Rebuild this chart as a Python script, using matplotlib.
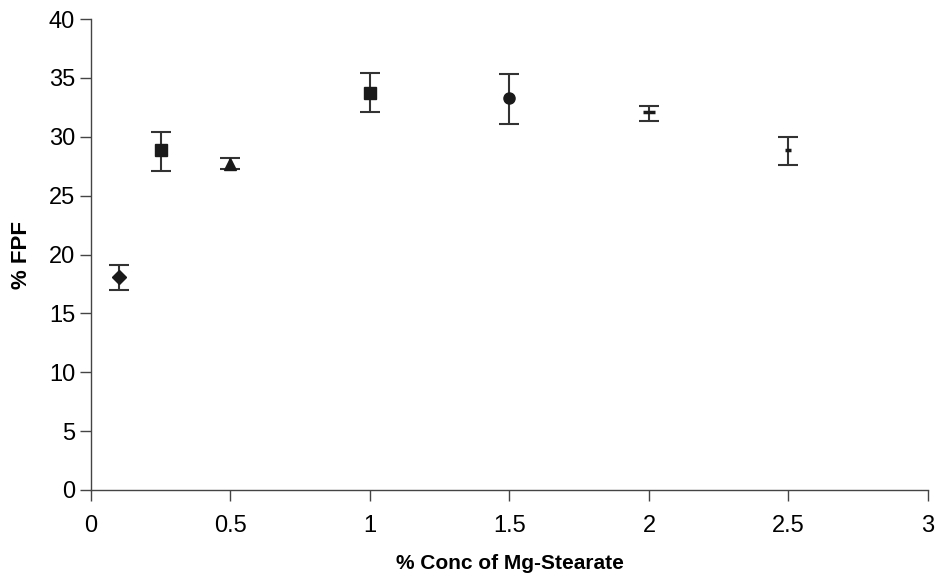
import matplotlib
matplotlib.use("Agg")
import matplotlib.pyplot as plt

# % Mg-stearate vs % FPF, mean with error bars
conc = [0.1, 0.25, 0.5, 1.0, 1.5, 2.0, 2.5]
fpf = [18.1, 28.9, 27.7, 33.7, 33.3, 32.1, 28.9]
err_lo = [1.1, 1.8, 0.4, 1.6, 2.2, 0.8, 1.3]
err_hi = [1.0, 1.5, 0.5, 1.7, 2.0, 0.5, 1.1]
markers = ['D', 's', '^', 's', 'o', '_', '_']
sizes = [7, 8, 8, 9, 8, 8, 5]

plt.rcParams['font.family'] = ['Liberation Sans', 'DejaVu Sans']

fig = plt.figure(figsize=(9.35, 5.77), dpi=100)
ax = fig.add_axes([0.0973, 0.1508, 0.8952, 0.8162])

for x, y, lo, hi, m, s in zip(conc, fpf, err_lo, err_hi, markers, sizes):
    ax.errorbar(x, y, yerr=[[lo], [hi]], fmt='none', ecolor='#333333',
                elinewidth=1.5, capsize=7, capthick=1.5)
    ax.plot(x, y, marker=m, color='#1a1a1a', ms=s,
            mew=2.5 if m == '_' else 1, linestyle='none')

ax.set_xlim(0, 3)
ax.set_ylim(0, 40)
ax.set_xticks([0, 0.5, 1, 1.5, 2, 2.5, 3])
ax.set_xticklabels(['0', '0.5', '1', '1.5', '2', '2.5', '3'])
ax.set_yticks(range(0, 41, 5))
ax.spines['top'].set_visible(False)
ax.spines['right'].set_visible(False)
for sp in ['left', 'bottom']:
    ax.spines[sp].set_color('#444444')
    ax.spines[sp].set_linewidth(1)
ax.tick_params(axis='both', labelsize=17, color='#444444', length=8, width=1)
ax.tick_params(axis='x', pad=10)
ax.set_xlabel('% Conc of Mg-Stearate', fontsize=15, fontweight='bold', labelpad=12)
ax.set_ylabel('% FPF', fontsize=16, fontweight='bold', labelpad=12)

fig.savefig('out.png', dpi=100)
